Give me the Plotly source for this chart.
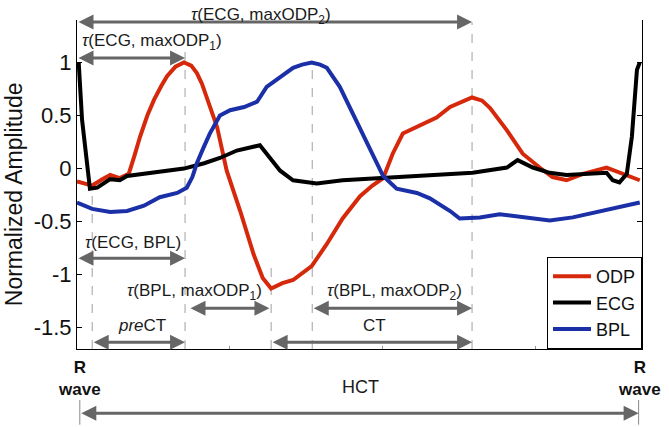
import plotly.graph_objects as go

# ---- data (time as fraction of the cardiac cycle, amplitude normalized) ----
odp_t = [0.0, 0.027, 0.045, 0.059, 0.076, 0.092, 0.102, 0.112, 0.125, 0.137, 0.150, 0.160,
         0.175, 0.190, 0.203, 0.213, 0.222, 0.231, 0.249, 0.266, 0.290, 0.314, 0.330, 0.345,
         0.365, 0.384, 0.417, 0.444, 0.472, 0.503, 0.525, 0.544, 0.561, 0.579, 0.609, 0.639,
         0.663, 0.680, 0.702, 0.720, 0.734, 0.764, 0.792, 0.822, 0.845, 0.870, 0.899, 0.941,
         0.970, 1.0]
odp_v = [-0.12, -0.16, -0.10, -0.06, -0.09, -0.05, 0.12, 0.30, 0.50, 0.65, 0.78, 0.87,
         0.96, 1.0, 0.97, 0.90, 0.80, 0.66, 0.39, -0.02, -0.40, -0.81, -1.03, -1.13,
         -1.08, -1.05, -0.92, -0.71, -0.47, -0.26, -0.16, -0.09, 0.14, 0.33, 0.41, 0.48,
         0.58, 0.62, 0.67, 0.64, 0.57, 0.36, 0.14, 0.01, -0.08, -0.11, -0.05, 0.01,
         -0.05, -0.11]

ecg_t = [0.003, 0.009, 0.023, 0.036, 0.059, 0.076, 0.089, 0.119, 0.147, 0.190, 0.226, 0.254,
         0.284, 0.320, 0.325, 0.343, 0.361, 0.384, 0.426, 0.472, 0.544, 0.591, 0.645, 0.703,
         0.764, 0.783, 0.810, 0.840, 0.870, 0.911, 0.941, 0.952, 0.964, 0.977, 0.986, 0.995, 1.0]
ecg_v = [1.0, 0.46, -0.19, -0.18, -0.10, -0.11, -0.07, -0.05, -0.03, 0.0, 0.05, 0.10,
         0.17, 0.21, 0.22, 0.10, -0.02, -0.11, -0.14, -0.11, -0.09, -0.07, -0.06, -0.04,
         0.01, 0.08, 0.01, -0.04, -0.06, -0.05, -0.04, -0.11, -0.13, -0.05, 0.30, 0.93, 1.0]

bpl_t = [0.0, 0.027, 0.059, 0.089, 0.119, 0.147, 0.178, 0.195, 0.205, 0.213, 0.225, 0.236,
         0.254, 0.272, 0.297, 0.320, 0.337, 0.355, 0.370, 0.384, 0.400, 0.417, 0.432, 0.444,
         0.467, 0.490, 0.515, 0.544, 0.568, 0.604, 0.627, 0.663, 0.680, 0.716, 0.751, 0.792,
         0.840, 0.881, 0.924, 0.959, 1.0]
bpl_v = [-0.32, -0.38, -0.41, -0.40, -0.35, -0.27, -0.23, -0.18, -0.08, 0.05, 0.20, 0.33,
         0.50, 0.55, 0.58, 0.63, 0.77, 0.84, 0.90, 0.95, 0.98, 1.0, 0.98, 0.95,
         0.77, 0.52, 0.24, -0.07, -0.19, -0.23, -0.28, -0.40, -0.47, -0.46, -0.43, -0.46,
         -0.49, -0.46, -0.41, -0.37, -0.32]

# event times (fraction of cycle)
t_r1 = 0.0
t_r2 = 1.0
t_ecg_min = 0.027
t_bpl = 0.192
t_max_odp1 = 0.192
t_min_odp = 0.345
t_max_bpl = 0.418
t_max_odp2 = 0.702

# vertical guide lines: time, start amplitude
guide_t = [t_ecg_min, t_max_odp1, t_min_odp, t_max_bpl, t_max_odp2]
guide_top = [-0.16, 1.12, -0.89, 1.0, 1.38]

x_ticks = [0.271, 0.543, 0.815]
y_ticks = [1, 0.5, 0, -0.5, -1, -1.5]
y_tick_labels = ["1", "0.5", "0", "-0.5", "-1", "-1.5"]

series_names = ["ODP", "ECG", "BPL"]
series_colors = ["#d6290c", "#000000", "#1b2fa6"]

fig = go.Figure()
for name, tt, vv, col in zip(series_names, [odp_t, ecg_t, bpl_t], [odp_v, ecg_v, bpl_v], series_colors):
    fig.add_trace(go.Scatter(x=tt, y=vv, mode="lines", name=name,
                             line=dict(color=col, width=4)))

Y_MIN = -1.70
for gt, gtop in zip(guide_t, guide_top):
    fig.add_shape(type="line", xref="x", yref="y", x0=gt, x1=gt, y0=Y_MIN, y1=gtop,
                  line=dict(color="#a0a0a0", width=1, dash="dash"), layer="below")

AC = "#666666"
FONT = "Liberation Sans, Arial, sans-serif"
ann = []

def darrow(x0, x1, y, yref="y"):
    ann.append(dict(x=x1, y=y, ax=x0, ay=0, xref="x", yref=yref, axref="x", ayref="pixel",
                    text="", showarrow=True, arrowhead=2, arrowside="end+start",
                    arrowsize=1.0, arrowwidth=3, arrowcolor=AC, standoff=0, startstandoff=0))

def label(x, y, text, xref="x", yref="y", xanchor="center", yanchor="middle", size=17):
    ann.append(dict(x=x, y=y, xref=xref, yref=yref, text=text, showarrow=False,
                    xanchor=xanchor, yanchor=yanchor,
                    font=dict(size=size, color="#1a1a1a", family=FONT)))

TAU = "<i>τ</i>"
darrow(t_r1, t_max_odp2, 1.382)
label(0.327, 1.052, TAU + "(ECG, maxODP<sub>2</sub>)", yref="paper", yanchor="top")
darrow(t_r1, t_max_odp1, 1.042)
label(0.005, 1.19, TAU + "(ECG, maxODP<sub>1</sub>)", xanchor="left")
darrow(t_r1, t_bpl, -0.844)
label(0.100, -0.70, TAU + "(ECG, BPL)")
darrow(t_bpl + 0.007, t_min_odp - 0.003, -1.316)
label(0.209, -1.165, TAU + "(BPL, maxODP<sub>1</sub>)")
darrow(t_max_bpl, t_max_odp2, -1.316)
label(0.565, -1.165, TAU + "(BPL, maxODP<sub>2</sub>)")
darrow(t_ecg_min, t_bpl, -1.637)
label(0.115, -1.476, "<i>pre</i>CT")
darrow(t_min_odp, t_max_odp2, -1.637)
label(0.529, -1.476, "CT")

# HCT below the axis
darrow(t_r1 + 0.005, t_r2 - 0.002, -0.195, yref="paper")
label(0.503, -0.115, "HCT", yref="paper", size=18)
for tr in [t_r1 + 0.005, t_r2 - 0.002]:
    fig.add_shape(type="line", xref="x", yref="paper", x0=tr, x1=tr, y0=-0.155, y1=-0.23,
                  line=dict(color="#888888", width=1))
for px in [0.005, 0.995]:
    ann.append(dict(x=px, y=-0.09, xref="paper", yref="paper", text="<b>R</b><br><b>wave</b>",
                    showarrow=False, xanchor="center", yanchor="middle",
                    font=dict(size=17, color="#111111", family=FONT)))
# y-axis title
ann.append(dict(x=-0.11, y=0.47, xref="paper", yref="paper", text="Normalized Amplitude",
                textangle=-90, showarrow=False, xanchor="center", yanchor="middle",
                font=dict(size=23, color="#111111", family=FONT)))

fig.update_layout(
    width=669, height=427,
    margin=dict(l=77, r=27, t=20, b=78),
    paper_bgcolor="white", plot_bgcolor="white",
    font=dict(family=FONT, color="#111111"),
    showlegend=True,
    legend=dict(x=1, y=0, xanchor="right", yanchor="bottom", bgcolor="white",
                bordercolor="#000000", borderwidth=1, font=dict(size=18, family=FONT),
                itemwidth=38, tracegroupgap=0),
    annotations=ann,
)
fig.update_xaxes(range=[0, 1.004], showgrid=False, zeroline=False, showticklabels=False,
                 showline=True, linecolor="black", linewidth=1, automargin=False,
                 tickvals=x_ticks, ticks="inside", ticklen=3, tickcolor="#999999")
fig.update_yaxes(range=[Y_MIN, 1.40], showgrid=False, zeroline=False, automargin=False,
                 tickvals=y_ticks, ticktext=y_tick_labels,
                 tickfont=dict(size=22, family=FONT, color="#111111"),
                 ticks="inside", ticklen=5, tickcolor="black",
                 showline=True, mirror="ticks", linecolor="black", linewidth=1)

# remove the page's default body margin so the figure fills the window exactly
fig.write_html("out.html", config={"displayModeBar": False},
               post_script="document.body.style.margin='0';")
